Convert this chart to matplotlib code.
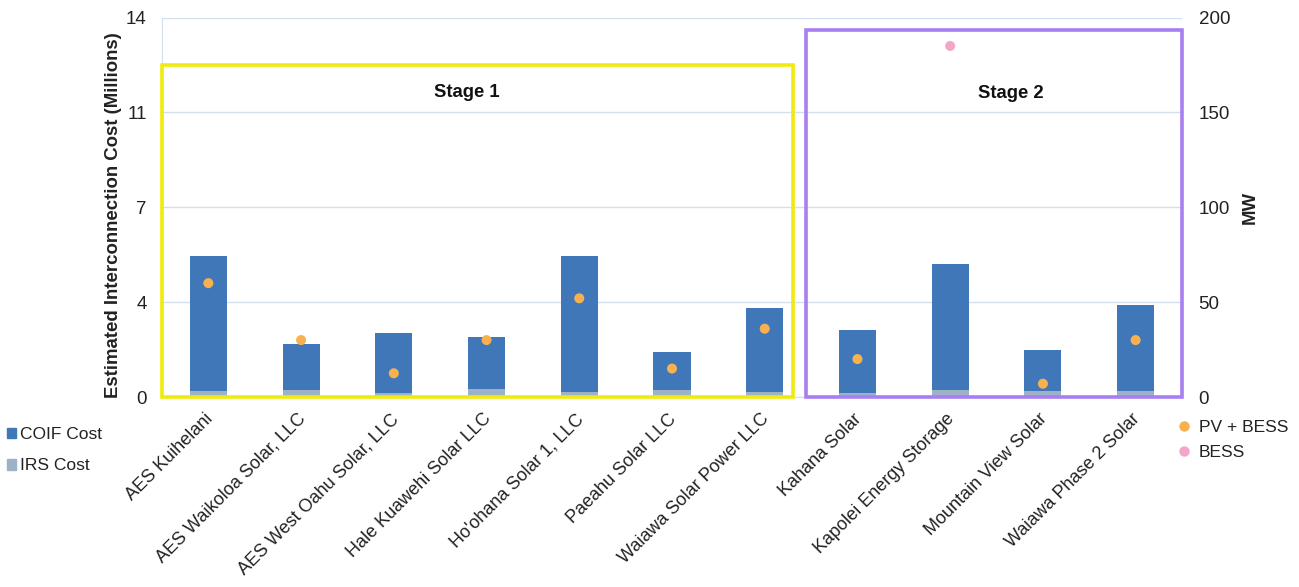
import numpy as np
import matplotlib
matplotlib.use("Agg")
import matplotlib.pyplot as plt
from matplotlib.patches import Rectangle, Patch
from matplotlib.lines import Line2D
import matplotlib.transforms as mtransforms

plt.rcParams['font.family'] = ['Liberation Sans', 'DejaVu Sans']

# ---- data ----
projects = [
    "AES Kuihelani", "AES Waikoloa Solar, LLC", "AES West Oahu Solar, LLC",
    "Hale Kuawehi Solar LLC", "Ho'ohana Solar 1, LLC", "Paeahu Solar LLC",
    "Waiawa Solar Power LLC", "Kahana Solar", "Kapolei Energy Storage",
    "Mountain View Solar", "Waiawa Phase 2 Solar",
]
irs_cost = [0.22, 0.26, 0.15, 0.30, 0.18, 0.26, 0.18, 0.15, 0.26, 0.22, 0.22]
coif_cost = [4.98, 1.70, 2.20, 1.90, 5.02, 1.39, 3.10, 2.32, 4.65, 1.51, 3.17]
pv_bess_mw = [60, 30, 12.5, 30, 52, 15, 36, 20, np.nan, 7, 30]
bess_mw = [np.nan, np.nan, np.nan, np.nan, np.nan, np.nan, np.nan, np.nan, 185, np.nan, np.nan]

cost_ticks = [0, 3.5, 7, 10.5, 14]
cost_tick_labels = ["0", "4", "7", "11", "14"]
mw_ticks = [0, 50, 100, 150, 200]

# ---- styling ----
C_COIF = "#3f77b9"
C_IRS = "#9db2c6"
C_PV = "#f9b14f"
C_BESS = "#f3a7c8"
C_GRID = "#d3e0ee"
C_TEXT = "#222222"
C_STAGE1 = "#f0eb0c"
C_STAGE2 = "#a87ff0"

W, H = 1299, 587
fig = plt.figure(figsize=(W / 100, H / 100), dpi=100)
left, right, top, bottom = 162, 1182, 17.5, 397
ax = fig.add_axes([left / W, (H - bottom) / H, (right - left) / W, (bottom - top) / H])

x = np.arange(len(projects))
ax.bar(x, irs_cost, width=0.40, color=C_IRS, zorder=2, label="IRS Cost")
ax.bar(x, coif_cost, width=0.40, bottom=irs_cost, color=C_COIF, zorder=2, label="COIF Cost")

ax.set_xlim(-0.5, len(projects) - 0.5)
ax.set_ylim(0, 14)
ax.set_yticks(cost_ticks)
ax.set_yticklabels(cost_tick_labels)
ax.grid(axis="y", color=C_GRID, lw=1, zorder=0)
ax.set_axisbelow(True)
for s in ["top", "right"]:
    ax.spines[s].set_visible(False)
for s in ["left", "bottom"]:
    ax.spines[s].set_color(C_GRID)
ax.tick_params(axis="y", length=0, pad=11, labelsize=13.5, labelcolor=C_TEXT)
ax.tick_params(axis="x", length=0, pad=14, labelsize=13, labelcolor=C_TEXT)
ax.set_xticks(x)
ax.set_xticklabels(projects, rotation=45, ha="right", va="center", rotation_mode="anchor")
shift = mtransforms.ScaledTranslation(2 / 100, 0, fig.dpi_scale_trans)
for lbl in ax.get_xticklabels():
    lbl.set_transform(lbl.get_transform() + shift)

ax.set_ylabel("Estimated Interconnection Cost (Millions)", fontsize=13.4,
              fontweight="bold", color=C_TEXT)
ax.yaxis.set_label_coords(-0.039, 0.48)

# MW on the secondary axis
ax2 = ax.twinx()
ax2.set_ylim(0, 200)
ax2.set_yticks(mw_ticks)
for s in ax2.spines.values():
    s.set_visible(False)
ax2.tick_params(axis="y", length=0, pad=12, labelsize=13.5, labelcolor=C_TEXT)
ax2.scatter(x, pv_bess_mw, s=52, color=C_PV, zorder=4, edgecolors="none", label="PV + BESS")
ax2.scatter(x, bess_mw, s=52, color=C_BESS, zorder=4, edgecolors="none", label="BESS")
ax2.set_ylabel("MW", fontsize=13.4, fontweight="bold", color=C_TEXT)
ax2.yaxis.set_label_coords(1.0585, 0.5)

# stage outlines and titles
ax.add_patch(Rectangle((-0.5, 0), 6.80, 12.23, fill=False, ec=C_STAGE1, lw=2.6,
                       zorder=5, clip_on=False))
ax.add_patch(Rectangle((6.445, 0), 4.05, 13.54, fill=False, ec=C_STAGE2, lw=2.6,
                       zorder=5, clip_on=False))
ax.text(2.79, 11.22, "Stage 1", ha="center", va="center", fontsize=13.3,
        fontweight="bold", color="#111111", zorder=6)
ax.text(8.65, 11.2, "Stage 2", ha="center", va="center", fontsize=13.3,
        fontweight="bold", color="#111111", zorder=6)

# legends
cost_handles = [Patch(color=C_COIF, label="COIF Cost"), Patch(color=C_IRS, label="IRS Cost")]
fig.legend(handles=cost_handles, loc="upper left",
           bbox_to_anchor=(0 / W, 1 - 420 / H), frameon=False, fontsize=12.5,
           handlelength=0.55, handleheight=0.55, handletextpad=0.2,
           labelspacing=0.95, borderaxespad=0, labelcolor=C_TEXT)
mw_handles = [Line2D([], [], marker="o", ls="none", color=C_PV, markersize=6.5, label="PV + BESS"),
              Line2D([], [], marker="o", ls="none", color=C_BESS, markersize=6.5, label="BESS")]
fig.legend(handles=mw_handles, loc="upper left",
           bbox_to_anchor=(1170 / W, 1 - 413 / H), frameon=False, fontsize=12.5,
           handlelength=0.8, handletextpad=0.45, labelspacing=0.55,
           borderaxespad=0, labelcolor=C_TEXT)

fig.savefig("out.png", dpi=100, facecolor="white")
